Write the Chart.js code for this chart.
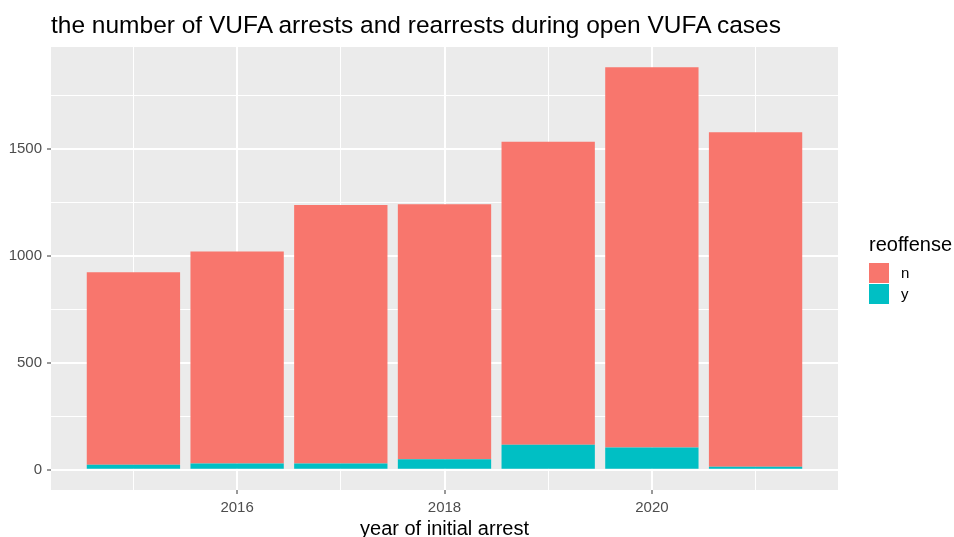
<!DOCTYPE html>
<html>
<head>
<meta charset="utf-8">
<script src="https://cdn.jsdelivr.net/npm/chart.js@4.4.1/dist/chart.umd.min.js"></script>
<style>
  body { margin: 0; background: #fff; font-family: "Liberation Sans", Arial, sans-serif; }
  #wrap { position: relative; width: 954px; height: 537px; overflow: hidden; }
  #title { position: absolute; left: 51px; top: 12px; font-size: 24.5px; line-height: 25px; color: #000; white-space: nowrap; }
  #legend { position: absolute; left: 869px; top: 234px; color: #000; }
  #legend .lt { font-size: 20px; line-height: 20px; margin-bottom: 8px; }
  #legend .it { display: flex; align-items: center; height: 21px; }
  #legend .key { width: 20px; height: 20px; margin-right: 12px; }
  #legend .lab { font-size: 15px; }
</style>
</head>
<body>
<div id="wrap">
  <canvas id="canvas" width="954" height="537"></canvas>
  <div id="title">the number of VUFA arrests and rearrests during open VUFA cases</div>
  <div id="legend">
    <div class="lt">reoffense</div>
    <div class="it"><div class="key" style="background:#F8766D"></div><span class="lab">n</span></div>
    <div class="it"><div class="key" style="background:#00BFC4"></div><span class="lab">y</span></div>
  </div>
</div>
<script>
// Dữ liệu
const years = [2015, 2016, 2017, 2018, 2019, 2020, 2021];
const reoffenseN = [899, 990, 1208, 1191, 1416, 1778, 1563];
const reoffenseY = [24, 30, 30, 50, 117, 104, 15];
const xTicks = [2015, 2016, 2017, 2018, 2019, 2020, 2021];
const yTicks = [0, 250, 500, 750, 1000, 1250, 1500, 1750];

// Giới hạn trục kiểu ggplot (mở rộng 5%)
const totals = years.map((y, i) => reoffenseN[i] + reoffenseY[i]);
const yMax = Math.max(...totals);
const yPad = yMax * 0.05;
const xLo = years[0] - 0.45, xHi = years[years.length - 1] + 0.45;
const xPad = (xHi - xLo) * 0.05;

// Nền xám của vùng vẽ
const panelBg = {
    id: 'panelBg',
    beforeDraw(chart) {
        const a = chart.chartArea;
        const ctx = chart.ctx;
        ctx.save();
        ctx.fillStyle = '#EBEBEB';
        ctx.fillRect(a.left, a.top, a.right - a.left, a.bottom - a.top);
        ctx.restore();
    }
};

const tickFont = { family: '"Liberation Sans", Arial, sans-serif', size: 15 };

const ctx = document.getElementById('canvas').getContext('2d');
new Chart(ctx, {
    type: 'bar',
    data: {
        datasets: [
            {
                label: 'y',
                data: years.map((y, i) => ({ x: y, y: reoffenseY[i] })),
                backgroundColor: '#00BFC4',
                borderWidth: 0,
            },
            {
                label: 'n',
                data: years.map((y, i) => ({ x: y, y: reoffenseN[i] })),
                backgroundColor: '#F8766D',
                borderWidth: 0,
            }
        ]
    },
    options: {
        responsive: false,
        animation: false,
        layout: { padding: { top: 47, right: 116, left: 0, bottom: 0 } },
        datasets: { bar: { barPercentage: 0.9, categoryPercentage: 1 } },
        plugins: {
            legend: { display: false },
            tooltip: { enabled: false },
        },
        scales: {
            x: {
                type: 'linear',
                stacked: true,
                offset: false,
                min: xLo - xPad,
                max: xHi + xPad,
                afterBuildTicks: s => { s.ticks = xTicks.map(v => ({ value: v })); },
                afterFit: s => { s.height = 47; },
                border: { display: false },
                grid: {
                    offset: false,
                    color: '#FFFFFF',
                    lineWidth: c => (c.tick && c.tick.value % 2 === 0) ? 2 : 1,
                    tickColor: c => (c.tick && c.tick.value % 2 === 0) ? '#333333' : 'rgba(0,0,0,0)',
                    tickWidth: 1,
                    tickLength: 4,
                },
                ticks: {
                    color: '#4D4D4D',
                    font: tickFont,
                    padding: 5,
                    maxRotation: 0,
                    autoSkip: false,
                    callback: v => v % 2 === 0 ? String(v) : '',
                },
                title: {
                    display: true,
                    text: 'year of initial arrest',
                    color: '#000',
                    font: { family: '"Liberation Sans", Arial, sans-serif', size: 20, lineHeight: 0.8 },
                    padding: 0,
                }
            },
            y: {
                stacked: true,
                min: -yPad,
                max: yMax + yPad,
                afterBuildTicks: s => { s.ticks = yTicks.map(v => ({ value: v })); },
                afterFit: s => { s.width = 51; },
                border: { display: false },
                grid: {
                    color: '#FFFFFF',
                    lineWidth: c => (c.tick && c.tick.value % 500 === 0) ? 2 : 1,
                    tickColor: c => (c.tick && c.tick.value % 500 === 0) ? '#333333' : 'rgba(0,0,0,0)',
                    tickWidth: 1,
                    tickLength: 4,
                },
                ticks: {
                    color: '#4D4D4D',
                    font: tickFont,
                    padding: 5,
                    autoSkip: false,
                    callback: v => v % 500 === 0 ? String(v) : '',
                }
            }
        }
    },
    plugins: [panelBg]
});
</script>
</body>
</html>
